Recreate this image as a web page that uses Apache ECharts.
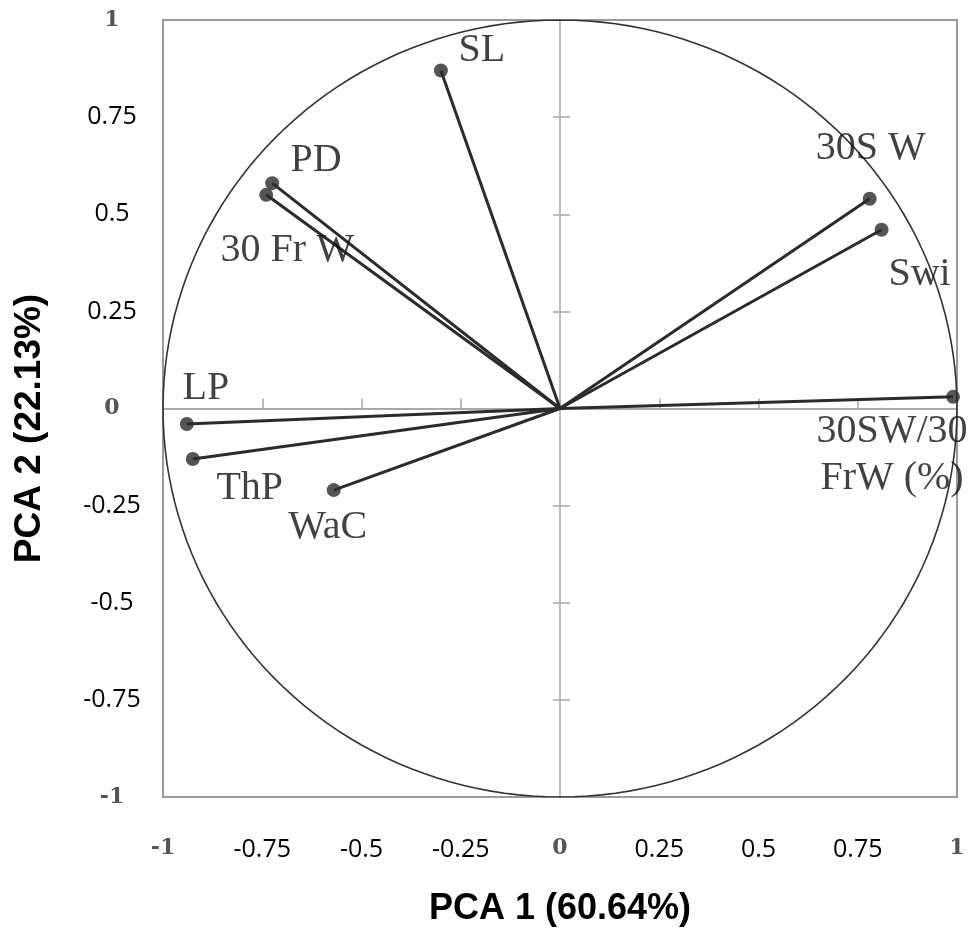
<!DOCTYPE html>
<html>
<head>
<meta charset="utf-8">
<script src="https://cdn.jsdelivr.net/npm/echarts@6/dist/echarts.min.js"></script>
<style>
html, body { margin: 0; padding: 0; background: #fff; }
#main { width: 973px; height: 934px; }
</style>
</head>
<body>
<div id="main"></div>
<script>
// loadings
var varNames = ['SL', 'PD', '30 Fr W', '30S W', 'Swi', '30SW/30\nFrW (%)', 'LP', 'ThP', 'WaC'];
var pc1 = [-0.30, -0.725, -0.74, 0.78, 0.81, 0.99, -0.94, -0.925, -0.57];
var pc2 = [0.87, 0.58, 0.55, 0.54, 0.46, 0.03, -0.04, -0.13, -0.21];
var axisMin = -1, axisMax = 1, axisStep = 0.25;
var xTitle = 'PCA 1 (60.64%)';
var yTitle = 'PCA 2 (22.13%)';

// where each name sits relative to its point (px)
var labelOffsets = [[41, -20], [44, -23], [21, 56], [1, -50], [38, 45], [-61, 58], [19, -36], [57, 29], [-6, 37]];

var chart = echarts.init(document.getElementById('main'));

// correlation circle (radius 1)
var circle = [];
for (var i = 0; i <= 360; i += 2) {
	var a = i * Math.PI / 180;
	circle.push([Math.cos(a), Math.sin(a)]);
}

var arrows = varNames.map(function(n, i) {
	return { coords: [[0, 0], [pc1[i], pc2[i]]] };
});
var points = varNames.map(function(n, i) {
	return {
		name: n,
		value: [pc1[i], pc2[i]],
		label: { offset: labelOffsets[i] }
	};
});

function tickFmt(v) {
	if (v === -1 || v === 0 || v === 1) return '{g|' + v + '}';
	return String(v);
}
var tickRich = {
	g: { fontFamily: 'DejaVu Serif', fontSize: 22, fontWeight: 'bold', color: '#555' }
};

var baseAxis = {
	type: 'value',
	min: axisMin,
	max: axisMax,
	interval: axisStep,
	splitLine: { show: false }
};

chart.setOption({
	backgroundColor: '#fff',
	animation: false,
	grid: {
		left: 163,
		right: 16,
		top: 20,
		bottom: 137,
		show: true,
		borderColor: '#9a9a9a',
		borderWidth: 2
	},
	xAxis: [
		Object.assign({}, baseAxis, {
			position: 'bottom',
			axisLine: { show: false, onZero: false },
			axisTick: { show: false },
			axisLabel: {
				margin: 40,
				fontFamily: 'Open Sans',
				fontSize: 25,
				color: '#000',
				formatter: tickFmt,
				rich: tickRich
			},
			name: xTitle,
			nameLocation: 'middle',
			nameGap: 94,
			nameTextStyle: { fontFamily: 'Liberation Sans', fontWeight: 'bold', fontSize: 36, color: '#000' }
		}),
		Object.assign({}, baseAxis, {
			position: 'bottom',
			axisLine: { show: true, onZero: true, onZeroAxisIndex: 0, lineStyle: { color: '#a8a8a8', width: 2 } },
			axisTick: { show: true, inside: true, length: 10, lineStyle: { color: '#a8a8a8', width: 1.5 } },
			axisLabel: { show: false }
		})
	],
	yAxis: [
		Object.assign({}, baseAxis, {
			position: 'left',
			axisLine: { show: false, onZero: false },
			axisTick: { show: false },
			axisLabel: {
				margin: 51,
				align: 'center',
				fontFamily: 'Open Sans',
				fontSize: 25,
				color: '#000',
				formatter: tickFmt,
				rich: tickRich
			},
			name: yTitle,
			nameLocation: 'middle',
			nameGap: 115,
			nameTextStyle: { fontFamily: 'Liberation Sans', fontWeight: 'bold', fontSize: 37, color: '#000', padding: [0, 40, 0, 0] }
		}),
		Object.assign({}, baseAxis, {
			position: 'left',
			axisLine: { show: true, onZero: true, onZeroAxisIndex: 0, lineStyle: { color: '#a8a8a8', width: 1.5 } },
			axisTick: { show: true, inside: true, length: 10, lineStyle: { color: '#a8a8a8', width: 1.5 } },
			axisLabel: { show: false }
		}),
		Object.assign({}, baseAxis, {
			position: 'left',
			axisLine: { show: false, onZero: true, onZeroAxisIndex: 1 },
			axisTick: { show: true, inside: false, length: 7, lineStyle: { color: '#a8a8a8', width: 1.5 } },
			axisLabel: { show: false }
		})
	],
	series: [{
		type: 'line',
		data: circle,
		showSymbol: false,
		smooth: false,
		silent: true,
		lineStyle: { color: '#333', width: 1.6 },
		z: 2
	}, {
		type: 'lines',
		coordinateSystem: 'cartesian2d',
		data: arrows,
		silent: true,
		lineStyle: { color: '#2b2b2b', width: 3, opacity: 1 },
		z: 3
	}, {
		type: 'scatter',
		data: points,
		symbolSize: 14,
		itemStyle: { color: '#2b2b2b' },
		label: {
			show: true,
			position: 'inside',
			formatter: '{b}',
			fontFamily: 'Liberation Serif',
			fontSize: 40,
			lineHeight: 47,
			color: '#111',
			textBorderWidth: 0,
			align: 'center',
			verticalAlign: 'middle'
		},
		z: 4
	}]
});
</script>
</body>
</html>
